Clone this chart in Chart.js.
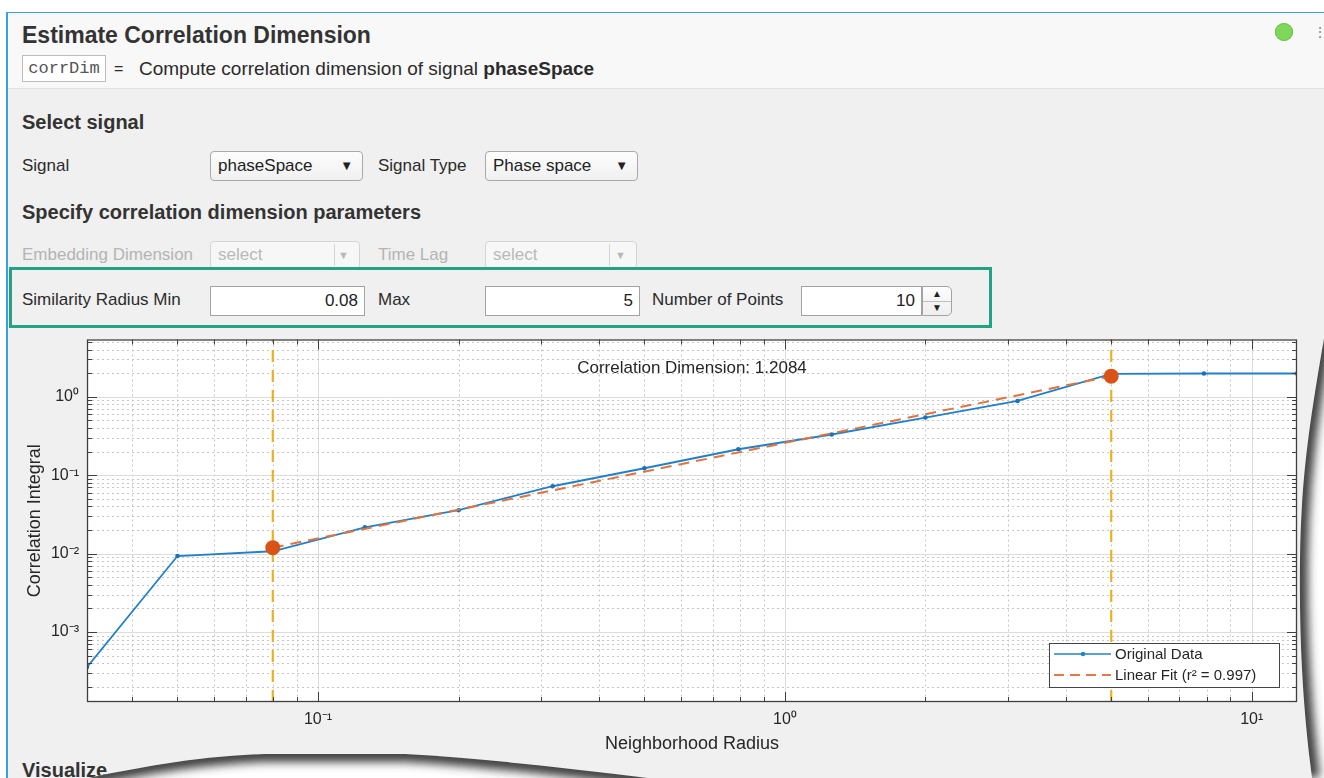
<!DOCTYPE html>
<html>
<head>
<meta charset="utf-8">
<script src="https://cdn.jsdelivr.net/npm/chart.js@4.4.1/dist/chart.umd.min.js"></script>
<style>
  html, body { margin: 0; padding: 0; background: #fff; }
  body { width: 1324px; height: 778px; overflow: hidden; position: relative;
         font-family: "Liberation Sans", Arial, sans-serif; color: #2b2b2b; }
  .panel { position: absolute; left: 6px; top: 12px; width: 1330px; height: 800px;
           background: #f0f0f0; border-left: 2px solid #3d9fe3; border-top: 1px solid #3d9fe3; }
  .head { position: absolute; left: 8px; top: 13px; width: 1330px; height: 75px;
          background: #f8f8f8; border-bottom: 1px solid #e2e2e2; }
  .t { position: absolute; white-space: nowrap; line-height: 24px; }
  .lbl { font-size: 17px; }
  .h1 { font-size: 23px; font-weight: bold; color: #333; }
  .h2 { font-size: 20px; font-weight: bold; color: #333; }
  .code { position: absolute; left: 22px; top: 55px; width: 84px; height: 27px; box-sizing: border-box;
          border: 1px solid #bdbdbd; background: #fff; font-family: "Liberation Mono", "DejaVu Sans Mono", monospace;
          font-size: 17px; line-height: 25px; text-align: center; color: #555; }
  .dd { position: absolute; height: 30px; box-sizing: border-box; border: 1px solid #a9a9a9; border-radius: 4px;
        background: linear-gradient(#fdfdfd, #f0f0f0); font-size: 17px; line-height: 28px; padding-left: 7px; color: #222; }
  .dd .arr { position: absolute; right: 9px; top: 0; font-size: 13px; }
  .dd.off { border-color: #d4d4d4; background: #f7f7f7; color: #b9b9b9; height: 28px; line-height: 26px; }
  .dd.off .sep { position: absolute; left: 123px; top: 2px; bottom: 2px; border-left: 1px solid #d6d6d6; }
  .dd.off .arr { right: 10px; font-size: 11px; }
  .inp { position: absolute; height: 30px; box-sizing: border-box; border: 1px solid #a3a3a3; background: #fff;
         font-size: 17px; line-height: 28px; text-align: right; padding-right: 6px; color: #222; }
  .spin { position: absolute; left: 922px; top: 286px; width: 30px; height: 30px; box-sizing: border-box;
          border: 1px solid #a3a3a3; border-radius: 0 5px 5px 0; background: linear-gradient(#fdfdfd, #eee); }
  .spin div { position: absolute; left: 0; width: 28px; height: 14px; font-size: 10px; line-height: 14px; text-align: center; color: #222; }
  .spin .up { top: 0; border-bottom: 1px solid #bdbdbd; }
  .spin .dn { top: 14px; }
  .focus { position: absolute; left: 9px; top: 267px; width: 983px; height: 61px; box-sizing: border-box;
           border: 3px solid #22a386; }
  .dot { position: absolute; left: 1275px; top: 23px; width: 18px; height: 18px; border-radius: 50%;
         background: #7fd85a; box-shadow: inset 0 0 0 1px #69c245; }
  canvas { position: absolute; left: 10px; top: 331px; }
  svg.tear { position: absolute; left: 0; top: 0; pointer-events: none; }
</style>
</head>
<body>
<div class="panel"></div>
<div class="head"></div>
<div class="t h1" style="left:22px; top:23px;">Estimate Correlation Dimension</div>
<div class="code">corrDim</div>
<div class="t" style="left:114px; top:57px; font-size:16px;">=</div>
<div class="t" style="left:139px; top:57px; font-size:19px;">Compute correlation dimension of signal <b>phaseSpace</b></div>
<div class="t" style="left:1313px; top:20px; font-size:14px; color:#888;">⋮</div>
<div class="dot"></div>

<div class="t h2" style="left:22px; top:110px;">Select signal</div>
<div class="t lbl" style="left:22px; top:154px;">Signal</div>
<div class="dd" style="left:210px; top:151px; width:153px;">phaseSpace<span class="arr">▼</span></div>
<div class="t lbl" style="left:378px; top:154px;">Signal Type</div>
<div class="dd" style="left:485px; top:151px; width:153px;">Phase space<span class="arr">▼</span></div>

<div class="t h2" style="left:22px; top:200px;">Specify correlation dimension parameters</div>
<div class="t lbl" style="left:22px; top:243px; color:#b4b4b4;">Embedding Dimension</div>
<div class="dd off" style="left:210px; top:241px; width:150px;">select<span class="sep"></span><span class="arr">▼</span></div>
<div class="t lbl" style="left:378px; top:243px; color:#b4b4b4;">Time Lag</div>
<div class="dd off" style="left:485px; top:241px; width:152px;">select<span class="sep"></span><span class="arr">▼</span></div>

<div class="focus"></div>
<div class="t lbl" style="left:22px; top:288px;">Similarity Radius Min</div>
<div class="inp" style="left:210px; top:286px; width:155px;">0.08</div>
<div class="t lbl" style="left:378px; top:288px;">Max</div>
<div class="inp" style="left:485px; top:286px; width:155px;">5</div>
<div class="t lbl" style="left:652px; top:288px;">Number of Points</div>
<div class="inp" style="left:801px; top:286px; width:121px;">10</div>
<div class="spin"><div class="up">▲</div><div class="dn">▼</div></div>

<div class="t h2" style="left:22px; top:758px;">Visualize</div>

<canvas id="myChart" width="1300" height="429"></canvas>

<svg class="tear" width="1324" height="778" viewBox="0 0 1324 778">
  <defs>
    <filter id="soft" x="-50%" y="-50%" width="200%" height="200%"><feGaussianBlur stdDeviation="5"/></filter>
    <clipPath id="clipR"><path d="M1324,338 C1312,410 1301,470 1300,560 C1299,650 1304,715 1312,778 L1324,778 Z"/></clipPath>
    <clipPath id="clipB"><path d="M88,778 C150,765 205,756 265,754 L405,754 C480,758 565,768 648,778 Z"/></clipPath>
  </defs>
  <path d="M1324,338 C1312,410 1301,470 1300,560 C1299,650 1304,715 1312,778 L1324,778 Z" fill="#fff"/>
  <g clip-path="url(#clipR)">
    <path d="M1324,338 C1312,410 1301,470 1300,560 C1299,650 1304,715 1312,778" fill="none" stroke="#3c3c3c" stroke-width="16" filter="url(#soft)"/>
  </g>
  <path d="M88,778 C150,765 205,756 265,754 L405,754 C480,758 565,768 648,778 Z" fill="#fff"/>
  <g clip-path="url(#clipB)">
    <path d="M88,778 C150,765 205,756 265,754 L405,754 C480,758 565,768 648,778" fill="none" stroke="#3c3c3c" stroke-width="16" filter="url(#soft)"/>
  </g>
</svg>

<script>
// neighborhood radius and correlation integral
const radius = [0.032, 0.05, 0.08, 0.126, 0.2, 0.318, 0.5, 0.795, 1.26, 2, 3.15, 5, 7.9, 12.5];
const corrIntegral = [0.000357, 0.0093, 0.0107, 0.0216, 0.0357, 0.0722, 0.1225, 0.214, 0.330, 0.543, 0.884, 1.96, 1.98, 1.98];

// linear fit end points
const fitRadius = [0.08, 5];
const fitIntegral = [0.0119, 1.83];

// similarity radius min / max markers
const radiusMin = 0.08;
const radiusMax = 5;

const xRange = [0.032, 12.5];
const yRange = [0.000128, 5.37];

const xTicks = [0.1, 1, 10];
const xTickText = ['10⁻¹', '10⁰', '10¹'];
const yTicks = [0.001, 0.01, 0.1, 1];
const yTickText = ['10⁻³', '10⁻²', '10⁻¹', '10⁰'];

const corrDimText = 'Correlation Dimension: 1.2084';
const legendText = ['Original Data', 'Linear Fit (r² = 0.997)'];

const FONT = '"Liberation Sans", Arial, sans-serif';
const blue = '#2180c9';
const orange = '#D95319';
const yellow = '#EDB120';

// MATLAB look: white axes, log grid, inward ticks, box, text and legend
const matlabAxes = {
  id: 'matlabAxes',
  beforeDatasetsDraw(chart) {
    const { ctx, chartArea: a, scales } = chart;
    ctx.save();
    ctx.fillStyle = '#fff';
    ctx.fillRect(a.left, a.top, a.right - a.left, a.bottom - a.top);
    ctx.lineWidth = 1;
    for (const key of ['x', 'y']) {
      const s = scales[key];
      const lo = Math.floor(Math.log10(s.min)), hi = Math.ceil(Math.log10(s.max));
      for (let d = lo; d <= hi; d++) {
        for (let m = 1; m <= 9; m++) {
          const v = m * Math.pow(10, d);
          if (v <= s.min || v >= s.max) continue;
          const p = Math.round(s.getPixelForValue(v)) + 0.5;
          if (m === 1) { ctx.setLineDash([]); ctx.strokeStyle = '#dcdcdc'; }
          else { ctx.setLineDash([2, 3]); ctx.strokeStyle = '#c6c6c6'; }
          ctx.beginPath();
          if (key === 'x') { ctx.moveTo(p, a.top); ctx.lineTo(p, a.bottom); }
          else { ctx.moveTo(a.left, p); ctx.lineTo(a.right, p); }
          ctx.stroke();
        }
      }
    }
    ctx.restore();
  },
  afterDatasetsDraw(chart) {
    const { ctx, chartArea: a, scales } = chart;
    ctx.save();
    ctx.setLineDash([]);
    ctx.strokeStyle = '#404040';
    ctx.lineWidth = 1;
    // inward ticks on all four sides
    for (const key of ['x', 'y']) {
      const s = scales[key];
      const lo = Math.floor(Math.log10(s.min)), hi = Math.ceil(Math.log10(s.max));
      for (let d = lo; d <= hi; d++) {
        for (let m = 1; m <= 9; m++) {
          const v = m * Math.pow(10, d);
          if (v <= s.min || v >= s.max) continue;
          const p = Math.round(s.getPixelForValue(v)) + 0.5;
          const len = m === 1 ? 10 : 5;
          ctx.beginPath();
          if (key === 'x') {
            ctx.moveTo(p, a.bottom); ctx.lineTo(p, a.bottom - len);
            ctx.moveTo(p, a.top); ctx.lineTo(p, a.top + len);
          } else {
            ctx.moveTo(a.left, p); ctx.lineTo(a.left + len, p);
            ctx.moveTo(a.right, p); ctx.lineTo(a.right - len, p);
          }
          ctx.stroke();
        }
      }
    }
    ctx.lineWidth = 1.3;
    ctx.strokeRect(a.left + 0.5, a.top + 0.5, a.right - a.left - 1, a.bottom - a.top - 1);

    // correlation dimension annotation
    ctx.fillStyle = '#262626';
    ctx.font = '17px ' + FONT;
    ctx.textAlign = 'center';
    ctx.textBaseline = 'middle';
    ctx.fillText(corrDimText, (a.left + a.right) / 2, a.top + 29);

    // legend, bottom right inside the axes
    const w = 230, h = 44;
    const bx = a.right - 18 - w, by = a.bottom - 15 - h;
    ctx.fillStyle = '#fff';
    ctx.fillRect(bx, by, w, h);
    ctx.strokeStyle = '#444';
    ctx.lineWidth = 1;
    ctx.strokeRect(bx + 0.5, by + 0.5, w, h);
    const r1 = by + 11, r2 = by + 32;
    ctx.strokeStyle = blue; ctx.lineWidth = 1.6;
    ctx.beginPath(); ctx.moveTo(bx + 5, r1); ctx.lineTo(bx + 62, r1); ctx.stroke();
    ctx.fillStyle = blue;
    ctx.beginPath(); ctx.arc(bx + 34, r1, 2.2, 0, Math.PI * 2); ctx.fill();
    ctx.strokeStyle = '#e37a49'; ctx.lineWidth = 2; ctx.setLineDash([10, 6]);
    ctx.beginPath(); ctx.moveTo(bx + 5, r2); ctx.lineTo(bx + 62, r2); ctx.stroke();
    ctx.setLineDash([]);
    ctx.fillStyle = '#262626';
    ctx.font = '15px ' + FONT;
    ctx.textAlign = 'left';
    ctx.fillText(legendText[0], bx + 66, r1 + 1);
    ctx.fillText(legendText[1], bx + 66, r2 + 1);
    ctx.restore();
  }
};

const ctx = document.getElementById('myChart').getContext('2d');
new Chart(ctx, {
  type: 'line',
  data: {
    datasets: [
      {
        label: 'Linear Fit',
        data: fitRadius.map((x, i) => ({ x: x, y: fitIntegral[i] })),
        borderColor: '#e07440',
        borderWidth: 2,
        borderDash: [11, 7],
        pointRadius: 6.5,
        pointBackgroundColor: orange,
        pointBorderColor: orange,
        order: 0
      },
      {
        label: 'Original Data',
        data: radius.map((x, i) => ({ x: x, y: corrIntegral[i] })),
        borderColor: blue,
        borderWidth: 1.8,
        pointRadius: 2.3,
        pointBackgroundColor: '#1c72b8',
        pointBorderWidth: 0,
        order: 1
      },
      {
        label: 'Radius min',
        data: [{ x: radiusMin, y: yRange[0] }, { x: radiusMin, y: yRange[1] }],
        borderColor: yellow,
        borderWidth: 2.2,
        borderDash: [12, 8],
        pointRadius: 0,
        order: 2
      },
      {
        label: 'Radius max',
        data: [{ x: radiusMax, y: yRange[0] }, { x: radiusMax, y: yRange[1] }],
        borderColor: yellow,
        borderWidth: 2.2,
        borderDash: [12, 8],
        pointRadius: 0,
        order: 2
      }
    ]
  },
  options: {
    responsive: false,
    animation: false,
    devicePixelRatio: 1,
    layout: { padding: { left: 0, right: 13, top: 0, bottom: 0 } },
    plugins: { legend: { display: false }, tooltip: { enabled: false } },
    elements: { line: { tension: 0 } },
    scales: {
      x: {
        type: 'logarithmic',
        min: xRange[0],
        max: xRange[1],
        grid: { display: false, drawTicks: false },
        border: { display: false },
        afterBuildTicks: s => { s.ticks = xTicks.map(v => ({ value: v })); },
        afterFit: s => { s.height = 58; s.paddingLeft = 0; s.paddingRight = 0; },
        ticks: {
          autoSkip: false, maxRotation: 0, padding: 8,
          color: '#262626', font: { family: FONT, size: 16 },
          callback: (v, i) => xTickText[i]
        },
        title: {
          display: true, text: 'Neighborhood Radius', color: '#262626',
          font: { family: FONT, size: 18 }, padding: { top: 0, bottom: 5 }
        }
      },
      y: {
        type: 'logarithmic',
        min: yRange[0],
        max: yRange[1],
        grid: { display: false, drawTicks: false },
        border: { display: false },
        afterBuildTicks: s => { s.ticks = yTicks.map(v => ({ value: v })); },
        afterFit: s => { s.width = 77; s.paddingTop = 0; s.paddingBottom = 0; },
        ticks: {
          autoSkip: false, padding: 8,
          color: '#262626', font: { family: FONT, size: 16 },
          callback: (v, i) => yTickText[i]
        },
        title: {
          display: true, text: 'Correlation Integral', color: '#262626',
          font: { family: FONT, size: 18 }, padding: { top: 14, bottom: 0 }
        }
      }
    }
  },
  plugins: [matlabAxes]
});
</script>
</body>
</html>
